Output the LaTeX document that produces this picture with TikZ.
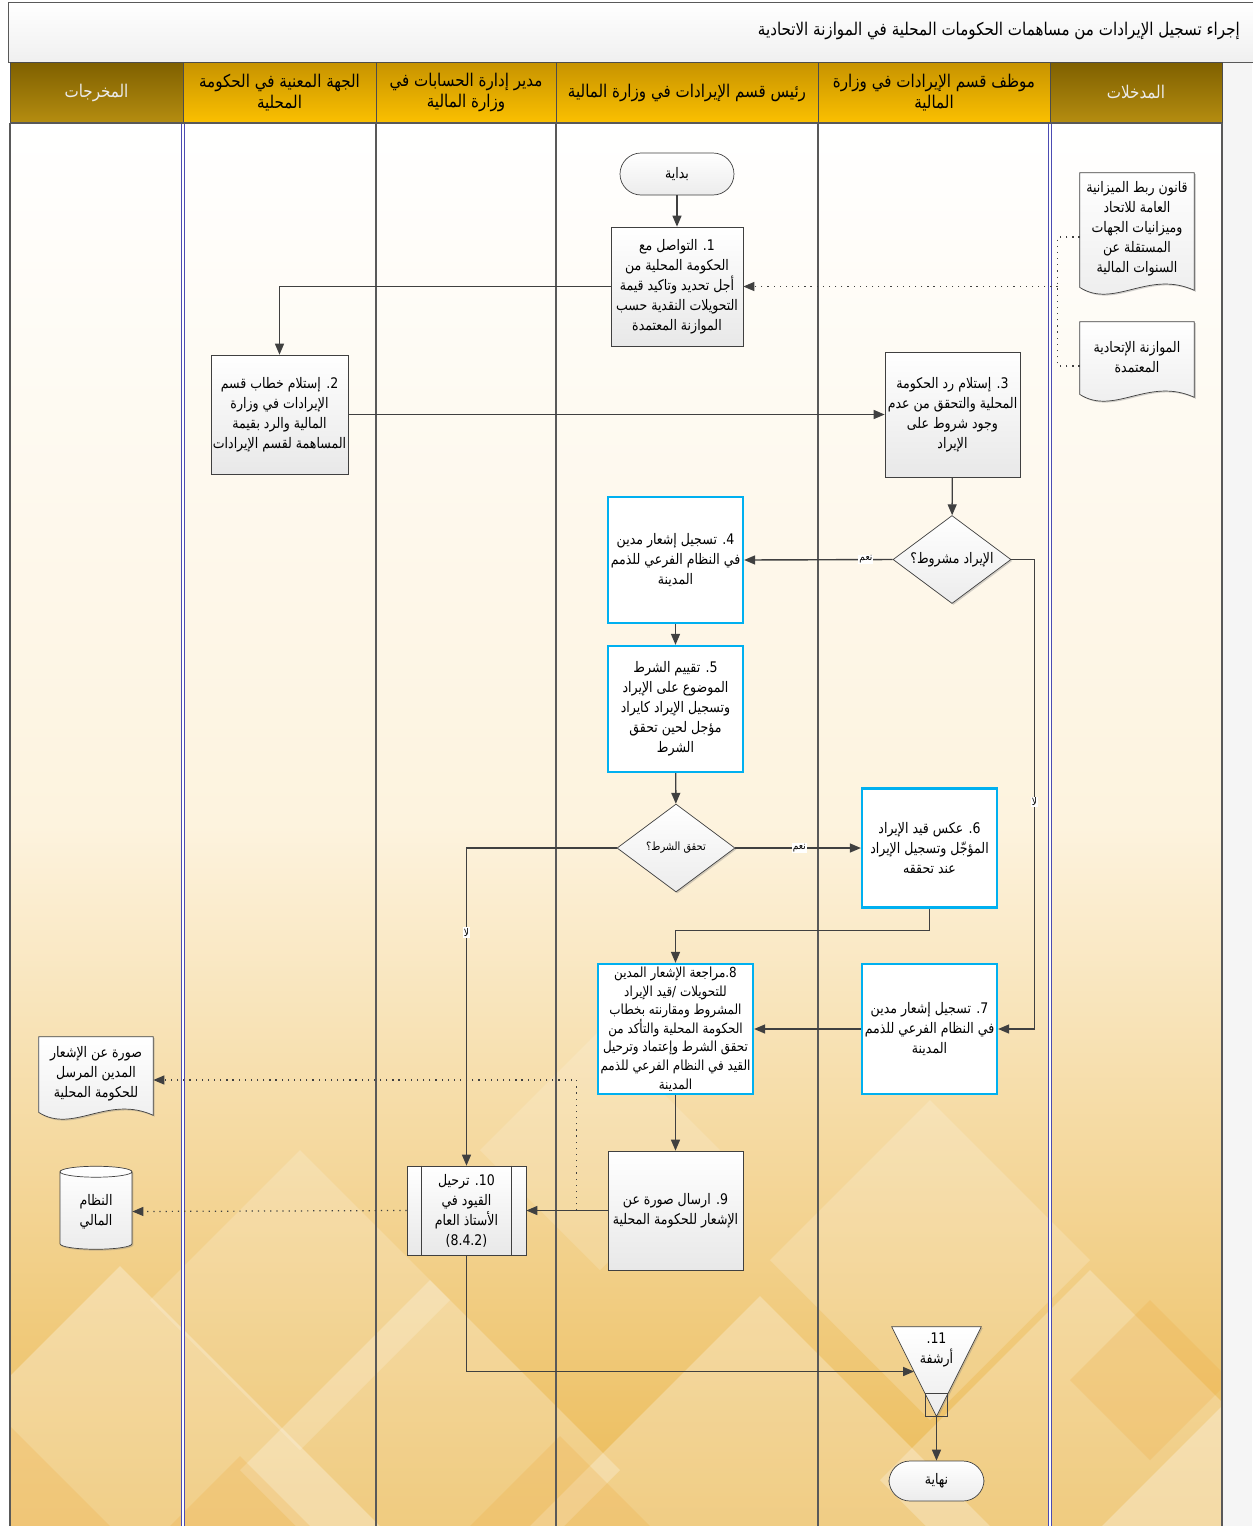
\documentclass[tikz,border=0pt]{standalone}
\usepackage{fontspec}
\newfontfamily\arabicfont[Script=Arabic,FakeStretch=0.86]{DejaVu Sans}
\TeXXeTstate=1
\usetikzlibrary{arrows.meta,shapes.geometric,calc,shadows}
\newcommand\RL[1]{\beginR#1\endR}
\newcommand\ltr[1]{\beginL#1\endL}
\pgfdeclarelayer{bg}
\pgfdeclarelayer{shp}
\pgfsetlayers{bg,shp,main}
\definecolor{lineg}{HTML}{404040}
\definecolor{cyanb}{HTML}{00B0F0}
\definecolor{goldD}{HTML}{7F6000}
\definecolor{goldDb}{HTML}{B58D10}
\definecolor{goldT}{HTML}{C79300}
\definecolor{goldB}{HTML}{FBC000}
\definecolor{cream}{HTML}{FDF3DE}
\definecolor{goldL}{HTML}{EBBA55}
% document outline with wavy bottom
\newcommand\docpath[1]{%
  \draw[docsty] (#1.north west) -- (#1.north east) -- ($(#1.south east)+(0,5)$)
    .. controls ($(#1.south west)!0.6!(#1.south east)+(0,-16)$) and ($(#1.south west)!0.3!(#1.south east)+(0,24)$)
    .. ($(#1.south west)+(0,2)$) -- cycle;}

\begin{document}
\begin{tikzpicture}[x=0.02cm,y=-0.02cm,
  font=\arabicfont\fontsize{8.3}{11.4}\selectfont,
  >={Triangle[length=2.2mm,width=1.8mm]},
  proc/.style={draw=lineg,top color=white,bottom color=gray!18,align=center,
    minimum width=2.7cm,minimum height=2.38cm,inner sep=1pt,
    drop shadow={shadow xshift=0.8pt,shadow yshift=-0.8pt,opacity=0.35}},
  blu/.style={draw=cyanb,line width=1.3pt,fill=white,align=center,
    minimum width=2.7cm,minimum height=2.52cm,inner sep=1pt,
    drop shadow={shadow xshift=0.8pt,shadow yshift=-0.8pt,opacity=0.35}},
  term/.style={draw=lineg,rounded corners=0.42cm,top color=white,bottom color=gray!15,
    minimum height=0.84cm},
  dec/.style={diamond,aspect=1.34,draw=lineg,top color=white,bottom color=gray!15,
    minimum width=2.36cm,minimum height=1.76cm,inner sep=0pt,
    drop shadow={shadow xshift=0.8pt,shadow yshift=-0.8pt,opacity=0.35}},
  docnode/.style={align=center,minimum width=2.28cm,inner sep=1pt},
  docsty/.style={draw=lineg,top color=white,bottom color=gray!15,
    drop shadow={shadow xshift=0.8pt,shadow yshift=-0.8pt,opacity=0.35}},
  hdr/.style={draw=gray!60!black,top color=goldT,bottom color=goldB,align=center,
    minimum height=1.22cm,font=\arabicfont\fontsize{10}{12}\selectfont},
  hdro/.style={hdr,top color=goldD,bottom color=goldDb,text=white!92!black},
  ar/.style={->,draw=lineg,line width=0.8pt},
  dt/.style={draw=lineg,line width=0.7pt,dash pattern=on 0.7pt off 2.8pt},
  dta/.style={dt,->},
  lbl/.style={font=\arabicfont\fontsize{6}{7}\selectfont,fill=white,inner sep=0.6pt},
  lane/.style={draw=gray!70!black,line width=0.6pt},
  lane2/.style={draw=gray!60!blue,line width=0.5pt,double=white,double distance=0.8pt}
]
\useasboundingbox (0,0) rectangle (1252,1526);

% background
\begin{pgfonlayer}{bg}
  \fill[white] (0,0) rectangle (1252,1526);
  \fill[gray!8] (1222,62) rectangle (1252,1526);
  \shade[top color=white,bottom color=goldL,middle color=cream] (10,123) rectangle (1222,1526);
  \begin{scope}
    \clip (10,123) rectangle (1222,1526);
    \foreach \cx/\cy/\r/\o in {120/1526/260/0.30,430/1470/190/0.25,760/1526/230/0.28,
      1090/1480/210/0.25,300/1300/150/0.18,930/1260/160/0.18,600/1150/120/0.15,1222/1526/120/0.3}
      \fill[white,opacity=\o] (\cx,\cy-\r) -- (\cx+\r,\cy) -- (\cx,\cy+\r) -- (\cx-\r,\cy) -- cycle;
    \foreach \cx/\cy/\r in {0/1526/110,560/1526/90,1150/1380/80,240/1526/70}
      \fill[goldL!80!orange,opacity=0.25] (\cx,\cy-\r) -- (\cx+\r,\cy) -- (\cx,\cy+\r) -- (\cx-\r,\cy) -- cycle;
  \end{scope}
  \shade[draw=gray!70!black,top color=white,bottom color=gray!12] (8,2) rectangle (1262,62);
\end{pgfonlayer}

% title
\node[anchor=east,font=\arabicfont\fontsize{10}{12}\selectfont] (title) at (1246,31)
  {\RL{إجراء تسجيل الإيرادات من مساهمات الحكومات المحلية في الموازنة الاتحادية}};

% lane headers
\node[hdro,minimum width=3.46cm] (h1) at (96.5,92.5) {\RL{المخرجات}};
\node[hdr,minimum width=3.86cm] (h2) at (279.5,92.5) {\RL{الجهة المعنية في الحكومة}\\\RL{المحلية}};
\node[hdr,minimum width=3.60cm] (h3) at (466,92.5) {\RL{مدير إدارة الحسابات في}\\\RL{وزارة المالية}};
\node[hdr,minimum width=5.24cm] (h4) at (687,92.5) {\RL{رئيس قسم الإيرادات في وزارة المالية}};
\node[hdr,minimum width=4.64cm] (h5) at (934,92.5) {\RL{موظف قسم الإيرادات في وزارة}\\\RL{المالية}};
\node[hdro,minimum width=3.44cm] (h6) at (1136,92.5) {\RL{المدخلات}};

% lane lines
\foreach \lx in {376,556,818}
  \draw[lane] (\lx,123) -- (\lx,1526);
\foreach \lx in {183,1050}
  \draw[lane2] (\lx,123) -- (\lx,1526);
\draw[lane] (10,123) -- (10,1526);
\draw[lane] (1222,123) -- (1222,1526);
\draw[lane] (10,123) -- (1222,123);

% steps
\node[term,minimum width=2.28cm] (start) at (677,174) {\RL{بداية}};
\node[proc,minimum width=2.64cm] (n1) at (677,286.5)
  {\RL{\ltr{1}. التواصل مع}\\\RL{الحكومة المحلية من}\\\RL{أجل تحديد وتاكيد قيمة}\\\RL{التحويلات النقدية حسب}\\\RL{الموازنة المعتمدة}};
\node[proc] (n2) at (279.5,414.5)
  {\RL{\ltr{2}. إستلام خطاب قسم}\\\RL{الإيرادات في وزارة}\\\RL{المالية والرد بقيمة}\\\RL{المساهمة لقسم الإيرادات}};
\node[proc,minimum height=2.5cm] (n3) at (952.5,414.5)
  {\RL{\ltr{3}. إستلام رد الحكومة}\\\RL{المحلية والتحقق من عدم}\\\RL{وجود شروط على}\\\RL{الإيراد}};
\node[dec] (d1) at (952,559.5) {\RL{الإيراد مشروط؟}};
\node[blu] (n4) at (675.5,560)
  {\RL{\ltr{4}. تسجيل إشعار مدين}\\\RL{في النظام الفرعي للذمم}\\\RL{المدينة}};
\node[blu] (n5) at (675.5,709)
  {\RL{\ltr{5}. تقييم الشرط}\\\RL{الموضوع على الإيراد}\\\RL{وتسجيل الإيراد كايراد}\\\RL{مؤجل لحين تحقق}\\\RL{الشرط}};
\node[dec,font=\arabicfont\fontsize{6.5}{8}\selectfont] (d2) at (676,848) {\RL{تحقق الشرط؟}};
\node[blu,minimum height=2.38cm] (n6) at (929.5,848)
  {\RL{\ltr{6}. عكس قيد الإيراد}\\\RL{المؤجّل وتسجيل الإيراد}\\\RL{عند تحققه}};
\node[blu,minimum height=2.6cm] (n7) at (929.5,1029)
  {\RL{\ltr{7}. تسجيل إشعار مدين}\\\RL{في النظام الفرعي للذمم}\\\RL{المدينة}};
\node[blu,minimum width=3.1cm,minimum height=2.6cm,inner sep=0pt,
  font=\arabicfont\fontsize{7.9}{10.6}\selectfont] (n8) at (675.5,1029)
  {\RL{\ltr{8}.مراجعة الإشعار المدين}\\\RL{للتحويلات /قيد الإيراد}\\\RL{المشروط ومقارنته بخطاب}\\\RL{الحكومة المحلية والتأكد من}\\\RL{تحقق الشرط وإعتماد وترحيل}\\\RL{القيد في النظام الفرعي للذمم}\\\RL{المدينة}};
\node[proc] (n9) at (675.5,1210.5)
  {\RL{\ltr{9}. ارسال صورة عن}\\\RL{الإشعار للحكومة المحلية}};
\node[proc,minimum width=2.38cm,minimum height=1.78cm] (n10) at (466.5,1210.5)
  {\RL{\ltr{10}. ترحيل}\\\RL{القيود في}\\\RL{الأستاذ العام}\\(8.4.2)};
\draw[lineg] ($(n10.north west)+(15,0)$) -- ($(n10.south west)+(15,0)$);
\draw[lineg] ($(n10.north east)+(-15,0)$) -- ($(n10.south east)+(-15,0)$);

% archive
\node[minimum width=1.78cm,minimum height=1.78cm,inner sep=0pt] (n11) at (936.5,1371.5) {};
\begin{pgfonlayer}{shp}
  \draw[docsty] (n11.north west) -- (n11.north east) -- (n11.south) -- cycle;
\end{pgfonlayer}
\draw[lineg] ($(n11.south)+(-11,0)$) rectangle ($(n11.south)+(11,-23)$);
\node[align=center] (n11t) at (936.5,1350) {\RL{\ltr{11}.}\\\RL{أرشفة}};
\coordinate (n11in) at ($(n11.north west)!0.5!(n11.south)$);
\node[term,minimum width=1.9cm,minimum height=0.8cm] (end) at (936.5,1481) {\RL{نهاية}};

% inputs
\node[docnode,minimum height=2.24cm] (in1) at (1137,229)
  {\RL{قانون ربط الميزانية}\\\RL{العامة للاتحاد}\\\RL{وميزانيات الجهات}\\\RL{المستقلة عن}\\\RL{السنوات المالية}};
\node[docnode,minimum height=1.4cm] (in2) at (1137,357)
  {\RL{الموازنة الإتحادية}\\\RL{المعتمدة}};
% outputs
\node[docnode,minimum height=1.46cm] (out1) at (96,1073.5)
  {\RL{صورة عن الإشعار}\\\RL{المدين المرسل}\\\RL{للحكومة المحلية}};
\node[cylinder,shape border rotate=90,aspect=0.3,draw=lineg,top color=white,bottom color=gray!15,
  minimum width=1.44cm,minimum height=1.66cm,align=center,inner sep=1pt,
  drop shadow={shadow xshift=0.8pt,shadow yshift=-0.8pt,opacity=0.35}] (out2) at (96,1211.5)
  {\RL{النظام}\\\RL{المالي}};
\begin{pgfonlayer}{shp}
  \docpath{in1}
  \docpath{in2}
  \docpath{out1}
\end{pgfonlayer}

% connectors
\draw[ar] (start) -- (n1);
\draw[ar] (n1.west) -| (n2.north);
\draw[ar] (n2.east) -- (n3.west);
\draw[ar] (n3) -- (d1);
\draw[ar] (d1.west) -- node[lbl,pos=0.18] {\RL{نعم}} (n4.east);
\draw[ar] (d1.east) -- ++(23,0) |- node[lbl,pos=0.258] {\RL{لا}} (n7.east);
\draw[ar] (n4) -- (n5);
\draw[ar] (n5) -- (d2);
\draw[ar] (d2.east) -- node[lbl,pos=0.51] {\RL{نعم}} (n6.west);
\draw[ar] (d2.west) -| node[lbl,pos=0.633] {\RL{لا}} (n10.north);
\draw[ar] (n6.south) -- ++(0,22) -| (n8.north);
\draw[ar] (n7.west) -- (n8.east);
\draw[ar] (n8) -- (n9);
\draw[ar] (n9.west) -- (n10.east);
\draw[ar] (n10.south) |- (n11in);
\draw[ar] (n11.south) -- (end);

% dotted links
\coordinate (jn) at ($(in1.west)+(-22,0)$);
\draw[dt] ([yshift=-0.16cm]in1.west) -| (jn |- n1.east);
\draw[dt] ([yshift=-0.18cm]in2.west) -| (jn |- n1.east);
\draw[dta] (jn |- n1.east) -- (n1.east);
\coordinate (tap) at ($(n9.west)+(-31,0)$);
\draw[dta] (tap) |- ([yshift=-0.13cm]out1.east);
\draw[dta] (n10.west) -- (out2.east);
\end{tikzpicture}
\end{document}
